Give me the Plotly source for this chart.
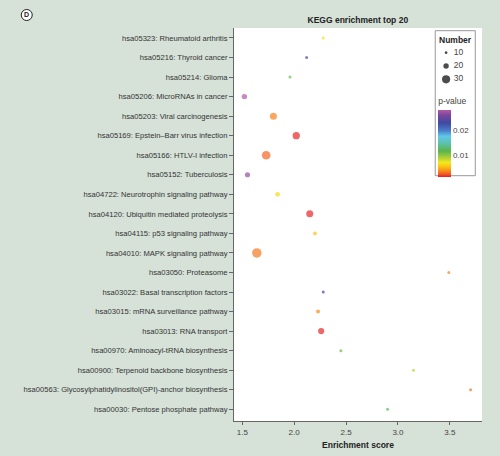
import plotly.graph_objects as go

pathways = [
    "hsa05323: Rheumatoid arthritis",
    "hsa05216: Thyroid cancer",
    "hsa05214: Glioma",
    "hsa05206: MicroRNAs in cancer",
    "hsa05203: Viral carcinogenesis",
    "hsa05169: Epstein–Barr virus infection",
    "hsa05166: HTLV-I infection",
    "hsa05152: Tuberculosis",
    "hsa04722: Neurotrophin signaling pathway",
    "hsa04120: Ubiquitin mediated proteolysis",
    "hsa04115: p53 signaling pathway",
    "hsa04010: MAPK signaling pathway",
    "hsa03050: Proteasome",
    "hsa03022: Basal transcription factors",
    "hsa03015: mRNA surveillance pathway",
    "hsa03013: RNA transport",
    "hsa00970: Aminoacyl-tRNA biosynthesis",
    "hsa00900: Terpenoid backbone biosynthesis",
    "hsa00563: Glycosylphatidylinositol(GPI)-anchor biosynthesis",
    "hsa00030: Pentose phosphate pathway",
]
enrichment = [2.28, 2.12, 1.96, 1.52, 1.80, 2.02, 1.73, 1.55, 1.84, 2.15,
              2.20, 1.64, 3.49, 2.28, 2.23, 2.26, 2.45, 3.15, 3.70, 2.90]
number = [11, 8, 11, 20, 26, 27, 32, 19, 18, 26,
          14, 35, 7, 7, 15, 23, 7, 6, 6, 6]
pvalue = [0.0065, 0.024, 0.011, 0.028, 0.0032, 0.0012, 0.0025, 0.027, 0.0062, 0.0012,
          0.0052, 0.003, 0.0032, 0.023, 0.0035, 0.0012, 0.011, 0.0085, 0.0028, 0.012]
size_legend_values = [10, 20, 30]
x_ticks = [1.5, 2.0, 2.5, 3.0, 3.5]

PMIN, PMAX = 0.001, 0.0282
def t(p):
    return (p - PMIN) / (PMAX - PMIN)

colorscale = [
    [0.0, "#e41e26"],
    [t(0.0022), "#f15a24"],
    [t(0.0032), "#f5831f"],
    [t(0.0050), "#fbbd12"],
    [t(0.0068), "#f5e81c"],
    [t(0.0090), "#a8cf3a"],
    [t(0.0115), "#5ab54a"],
    [t(0.0145), "#5cc0a8"],
    [t(0.0175), "#60c8e8"],
    [t(0.0200), "#4a78c8"],
    [t(0.0230), "#3d4aa0"],
    [t(0.0260), "#7a459c"],
    [1.0, "#b05aa8"],
]

W, H = 500, 456
L, R, T, B = 234, 481.7, 28, 421
PW, PH = R - L, B - T
def px(x):
    return (x - L) / PW
def py(y):
    return (B - y) / PH

FONT = "Liberation Sans, Arial, sans-serif"
SIZEREF = 3.7

fig = go.Figure()
fig.add_trace(go.Scatter(
    x=enrichment, y=pathways, mode="markers", showlegend=False,
    marker=dict(size=number, sizemode="diameter", sizeref=SIZEREF, sizemin=1.5,
                color=pvalue, colorscale=colorscale, cmin=PMIN, cmax=PMAX,
                line=dict(width=0),
                colorbar=dict(
                    x=px(438), xanchor="left", xpad=0,
                    y=py(95), yanchor="top", ypad=0,
                    lenmode="pixels", len=82, thickness=13,
                    outlinewidth=0, ticks="", tickvals=[0.01, 0.02],
                    ticktext=["0.01", "0.02"],
                    tickfont=dict(size=8, color="#444", family=FONT),
                    title=dict(text="p-value", side="top",
                               font=dict(size=8.5, color="#444", family=FONT)),
                )),
))

# size legend keys
fig.add_trace(go.Scatter(
    x=[0] * len(size_legend_values), y=list(range(len(size_legend_values))),
    mode="markers", showlegend=False, hoverinfo="skip",
    marker=dict(size=size_legend_values, sizemode="diameter", sizeref=SIZEREF,
                color="black", line=dict(width=0)),
    xaxis="x2", yaxis="y2"))
fig.add_trace(go.Scatter(
    x=[1.3] * len(size_legend_values), y=list(range(len(size_legend_values))),
    mode="text", text=[str(v) for v in size_legend_values],
    textposition="middle right", showlegend=False, hoverinfo="skip",
    textfont=dict(size=8.5, color="#444", family=FONT),
    xaxis="x2", yaxis="y2"))

fig.update_layout(
    width=W, height=H,
    margin=dict(l=L, r=W - R, t=T, b=H - B, autoexpand=False),
    paper_bgcolor="#d6e1d8", plot_bgcolor="white",
    font=dict(family=FONT, color="#333"),
    title=dict(text="<b>KEGG enrichment top 20</b>", x=(L + R) / 2 / W,
               xref="container", xanchor="center", y=1 - 20 / H,
               yref="container", yanchor="middle",
               font=dict(size=8.5, color="#222", family=FONT)),
    xaxis=dict(range=[1.42, 3.81], tickvals=x_ticks, automargin=False,
               ticktext=[f"{v:.1f}" for v in x_ticks],
               showgrid=False, zeroline=False, showline=True,
               linecolor="#666", linewidth=1, ticks="outside", ticklen=3,
               tickcolor="#666", tickfont=dict(size=8, color="#444"),
               title=dict(text="<b>Enrichment score</b>", standoff=6,
                          font=dict(size=8.5, color="#222"))),
    yaxis=dict(categoryorder="array", categoryarray=pathways, automargin=False,
               range=[19.6, -0.51], showgrid=False, zeroline=False,
               showline=True, linecolor="#666", linewidth=1,
               ticks="outside", ticklen=4, tickcolor="#666",
               tickfont=dict(size=7.6, color="#333")),
    xaxis2=dict(domain=[px(440), px(475)], range=[-1, 5], visible=False,
                fixedrange=True, anchor="y2"),
    yaxis2=dict(domain=[py(86), py(46)], range=[2.5, -0.5], visible=False,
                fixedrange=True, anchor="x2"),
    shapes=[
        dict(type="rect", xref="paper", yref="paper",
             x0=px(435), x1=px(475), y0=py(175.7), y1=py(30.7),
             line=dict(color="#999", width=1), fillcolor="rgba(0,0,0,0)",
             layer="above"),
        dict(type="circle", xref="paper", yref="paper",
             xsizemode="pixel", ysizemode="pixel",
             xanchor=px(27), yanchor=py(15), x0=-5.5, x1=5.5, y0=-5.5, y1=5.5,
             line=dict(color="#222", width=1), fillcolor="white"),
    ],
    annotations=[
        dict(text="<b>Number</b>", x=px(455), y=py(40), xref="paper",
             yref="paper", showarrow=False, xanchor="center", yanchor="middle",
             font=dict(size=8.5, color="#222", family=FONT)),
        dict(text="<b>D</b>", x=px(27), y=py(15), xref="paper", yref="paper",
             showarrow=False, xanchor="center", yanchor="middle",
             font=dict(size=7, color="#222", family=FONT)),
    ],
)

fig.write_html("out.html", config={"displayModeBar": False},
               post_script="document.body.style.margin='0';"
                           "document.body.style.background='#d6e1d8';")
